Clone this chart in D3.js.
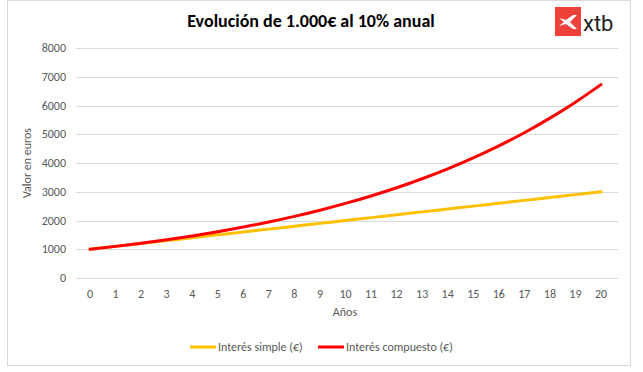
<!DOCTYPE html>
<html>
<head>
<meta charset="utf-8">
<script src="https://cdn.jsdelivr.net/npm/d3@7"></script>
<style>
  body { margin: 0; background: #fff; }
  svg text { font-family: Carlito, Lato, "Liberation Sans", sans-serif; }
</style>
</head>
<body>
<div id="chart"></div>
<script>
// data
const years = d3.range(0, 21);
const simple = [1000, 1100, 1200, 1300, 1400, 1500, 1600, 1700, 1800, 1900, 2000,
                2100, 2200, 2300, 2400, 2500, 2600, 2700, 2800, 2900, 3000];
const compound = [1000, 1100, 1210, 1331, 1464, 1611, 1772, 1949, 2144, 2358, 2594,
                  2853, 3138, 3452, 3797, 4177, 4595, 5054, 5560, 6116, 6727];
const yTicks = [0, 1000, 2000, 3000, 4000, 5000, 6000, 7000, 8000];
const seriesNames = ["Interés simple (€)", "Interés compuesto (€)"];
const seriesColors = ["#FFC000", "#FF0000"];

const width = 643, height = 372;

const svg = d3.select("#chart").append("svg")
  .attr("width", width)
  .attr("height", height);

// chart border
svg.append("rect")
  .attr("x", 7.5).attr("y", 0.5)
  .attr("width", 623).attr("height", 365)
  .attr("fill", "#fff")
  .attr("stroke", "#D9D9D9");

const x = d3.scaleLinear().domain([0, 20]).range([90, 601]);
const y = d3.scaleLinear().domain([0, 8000]).range([278, 48]);

// gridlines
svg.append("g")
  .selectAll("line")
  .data(yTicks)
  .join("line")
  .attr("x1", 76).attr("x2", 618)
  .attr("y1", d => Math.round(y(d)) + 0.5)
  .attr("y2", d => Math.round(y(d)) + 0.5)
  .attr("stroke", "#D9D9D9");

// y labels
svg.append("g")
  .selectAll("text")
  .data(yTicks)
  .join("text")
  .attr("x", 66)
  .attr("y", d => y(d) + 4)
  .attr("text-anchor", "end")
  .attr("fill", "#595959")
  .style("font-size", "12px")
  .text(d => d);

// x labels
svg.append("g")
  .selectAll("text")
  .data(years)
  .join("text")
  .attr("x", d => x(d))
  .attr("y", 298)
  .attr("text-anchor", "middle")
  .attr("fill", "#595959")
  .style("font-size", "12px")
  .text(d => d);

// axis titles
svg.append("text")
  .attr("x", 345).attr("y", 316)
  .attr("text-anchor", "middle")
  .attr("fill", "#595959")
  .style("font-size", "12px")
  .text("Años");

svg.append("text")
  .attr("transform", "translate(31,163) rotate(-90)")
  .attr("text-anchor", "middle")
  .attr("fill", "#595959")
  .style("font-size", "12px")
  .text("Valor en euros");

// title
svg.append("text")
  .attr("x", 311).attr("y", 27)
  .attr("text-anchor", "middle")
  .attr("fill", "#000")
  .style("font-size", "18px")
  .style("font-weight", "bold")
  .text("Evolución de 1.000€ al 10% anual");

// lines
const line = d3.line()
  .x((d, i) => x(years[i]))
  .y(d => y(d))
  .curve(d3.curveMonotoneX);

[simple, compound].forEach((s, i) => {
  svg.append("path")
    .datum(s)
    .attr("d", line)
    .attr("fill", "none")
    .attr("stroke", seriesColors[i])
    .attr("stroke-width", 3)
    .attr("stroke-linecap", "round");
});

// legend
const legendX = [190, 318];
seriesNames.forEach((name, i) => {
  const g = svg.append("g").attr("transform", `translate(${legendX[i]},347)`);
  g.append("line")
    .attr("x1", 0).attr("x2", 26)
    .attr("stroke", seriesColors[i])
    .attr("stroke-width", 3);
  g.append("text")
    .attr("x", 28).attr("y", 4)
    .attr("fill", "#595959")
    .style("font-size", "12px")
    .text(name);
});

// xtb logo
const logo = svg.append("g").attr("transform", "translate(555,7)");
logo.append("rect")
  .attr("width", 26).attr("height", 29)
  .attr("fill", "#F0403A");
logo.append("path")
  .attr("d", "M4,11 L11,13 L18,8 L22,8 L15,15 L22,22 L18,22 L11,17 L4,19 L9,15 Z")
  .attr("fill", "#fff");
logo.append("text")
  .attr("x", 28).attr("y", 24)
  .attr("fill", "#222")
  .style("font-size", "22px")
  .style("font-family", "Roboto, Arial, sans-serif")
  .text("xtb");
</script>
</body>
</html>
